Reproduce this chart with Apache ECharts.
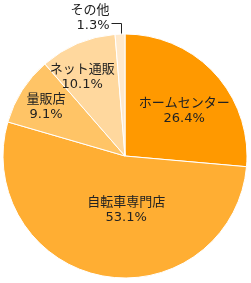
<!DOCTYPE html>
<html><head><meta charset="utf-8">
<script src="https://cdn.jsdelivr.net/npm/echarts@6/dist/echarts.min.js"></script>
<style>html,body{margin:0;padding:0;background:#fff}#c{width:251px;height:283px}</style>
</head><body><div id="c"></div>
<script>
const categories = ['ホームセンター', '自転車専門店', '量販店', 'ネット通販', 'その他'];
const shares = [26.4, 53.1, 9.1, 10.1, 1.3];

const colors = ['#FF9900', '#FFAE33', '#FFC466', '#FFD89E', '#FFE9CC'];
const labelOffsets = [[12, -2], [13, -9], [-25, -14], [-18, -20], [0, -4]];
const CX = 125, CY = 156, R = 122;

const total = shares.reduce((a, b) => a + b, 0);
function midAngle(i) {
  let before = 0;
  for (let k = 0; k < i; k++) before += shares[k];
  return (before + shares[i] / 2) / total * 2 * Math.PI; // clockwise from top
}

const chart = echarts.init(document.getElementById('c'), null, {renderer: 'canvas'});
const data = categories.map((n, i) => {
  const item = {name: n, value: shares[i], itemStyle: {color: colors[i]}};
  if (i === 4) {
    item.label = {position: 'outside', align: 'right'};
    item.labelLine = {show: true, length: 11, length2: 10, lineStyle: {color: '#222', width: 1}};
  }
  return item;
});
chart.setOption({
  animation: false,
  series: [{
    type: 'pie',
    center: [CX, CY],
    radius: [0, R],
    startAngle: 90,
    clockwise: true,
    data: data,
    itemStyle: {borderColor: '#fff', borderWidth: 1},
    label: {
      show: true,
      position: 'inside',
      formatter: p => p.name + '\n' + p.value.toFixed(1) + '%',
      color: '#222',
      fontSize: 13,
      lineHeight: 15,
      fontFamily: '"DejaVu Sans", "Noto Sans CJK JP", sans-serif',
      align: 'center'
    },
    labelLine: {show: false},
    labelLayout: p => {
      const i = p.dataIndex;
      if (i === 4) {
        const a = midAngle(i);
        const x0 = CX + 0.9 * R * Math.sin(a);
        const y0 = CY - 0.9 * R * Math.cos(a);
        const xs = Math.round(x0) + 0.5;
        const y1 = Math.round(CY - R - 11) + 0.5;
        const x2 = xs - 10;
        return {
          labelLinePoints: [[xs, y0], [xs, y1], [x2, y1]],
          x: x2 - 2,
          y: y1 - 5,
          align: 'right',
          verticalAlign: 'middle'
        };
      }
      return {dx: labelOffsets[i][0], dy: labelOffsets[i][1]};
    }
  }]
});
</script></body></html>
